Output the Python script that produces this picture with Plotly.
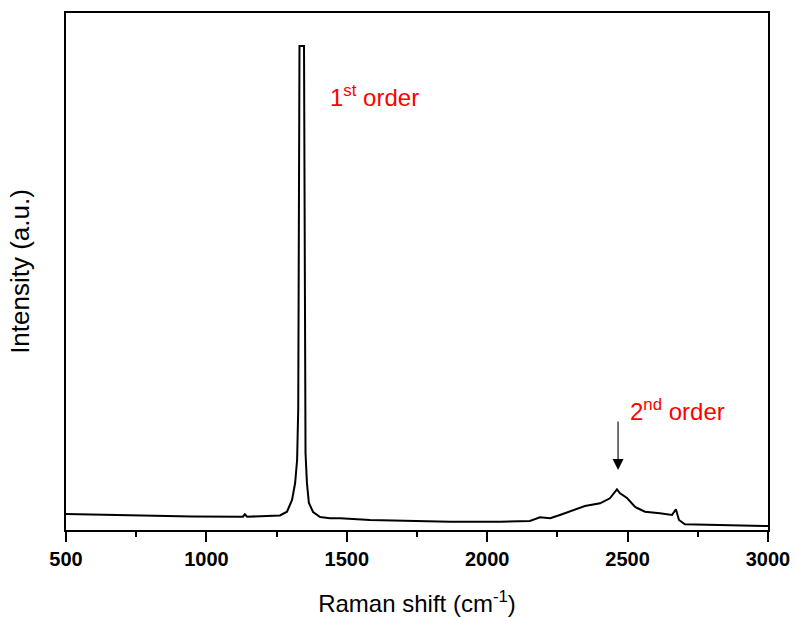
import plotly.graph_objects as go

# Raman spectrum (wavenumber in cm^-1, intensity in arbitrary units)
wavenumber = [500, 650, 799, 950, 1130, 1137, 1145, 1191, 1226, 1262, 1287, 1305, 1316, 1323,
              1327, 1329, 1331.5, 1347.6, 1350, 1353, 1358, 1365, 1380, 1405, 1440, 1476,
              1583, 1689, 1868, 2046, 2120, 2152, 2188, 2224, 2259, 2330, 2348, 2402, 2437,
              2462, 2473, 2498, 2526, 2534, 2562, 2615, 2658, 2672, 2683, 2704, 2829, 3000]
intensity = [16, 15, 14, 13.6, 13.3, 15.7, 13.3, 13.5, 14, 14.5, 18.3, 30, 47, 70,
             120, 250, 484, 484, 250, 77, 47, 27, 18, 13, 11.7, 11.7,
             10, 9.3, 8.3, 8.3, 9, 9, 12.7, 11.7, 15, 21.7, 24, 26.7, 31.7,
             40.7, 36.7, 32, 23.3, 22, 18.3, 16.7, 15, 20.7, 10, 5.7, 5, 4]

x_ticks = [500, 1000, 1500, 2000, 2500, 3000]

FONT = "Liberation Sans, Arial"

fig = go.Figure()
fig.add_trace(go.Scatter(x=wavenumber, y=intensity, mode="lines",
                         line=dict(color="black", width=2), showlegend=False))

fig.add_annotation(x=1600, y=434, xref="x", yref="y", showarrow=False,
                   text="1<sup>st</sup> order",
                   font=dict(family=FONT, size=24, color="#ff0000"))
fig.add_annotation(x=2676, y=120, xref="x", yref="y", showarrow=False,
                   text="2<sup>nd</sup> order",
                   font=dict(family=FONT, size=24, color="#ff0000"))
fig.add_annotation(x=2466, y=60, xref="x", yref="y", ax=2466, ay=110,
                   axref="x", ayref="y", text="", showarrow=True,
                   arrowhead=2, arrowsize=2, arrowwidth=1.1, arrowcolor="black")

fig.update_layout(
    width=796, height=617,
    margin=dict(l=66, r=28, t=13, b=87),
    plot_bgcolor="white", paper_bgcolor="white",
    font=dict(family=FONT, color="black"),
    xaxis=dict(range=[500, 3000], tickvals=x_ticks, ticks="outside", ticklen=10,
               tickwidth=1.5, tickcolor="black", showline=True, linecolor="black",
               linewidth=1.5, mirror=True, showgrid=False, zeroline=False,
               automargin=False,
               tickfont=dict(family=FONT, size=20, color="black", weight="bold"),
               minor=dict(dtick=250, ticks="outside", ticklen=5, tickwidth=1.5, tickcolor="black",
                          showgrid=False),
               title=dict(text="Raman shift (cm<sup>-1</sup>)", standoff=28,
                          font=dict(family=FONT, size=24, color="black"))),
    yaxis=dict(range=[0, 517], showticklabels=False, ticks="", showline=True,
               linecolor="black", linewidth=1.5, mirror=True, showgrid=False, zeroline=False,
               automargin=False,
               title=dict(text="Intensity (a.u.)", standoff=27,
                          font=dict(family=FONT, size=26, color="black"))),
)

fig.write_html("out.html")
